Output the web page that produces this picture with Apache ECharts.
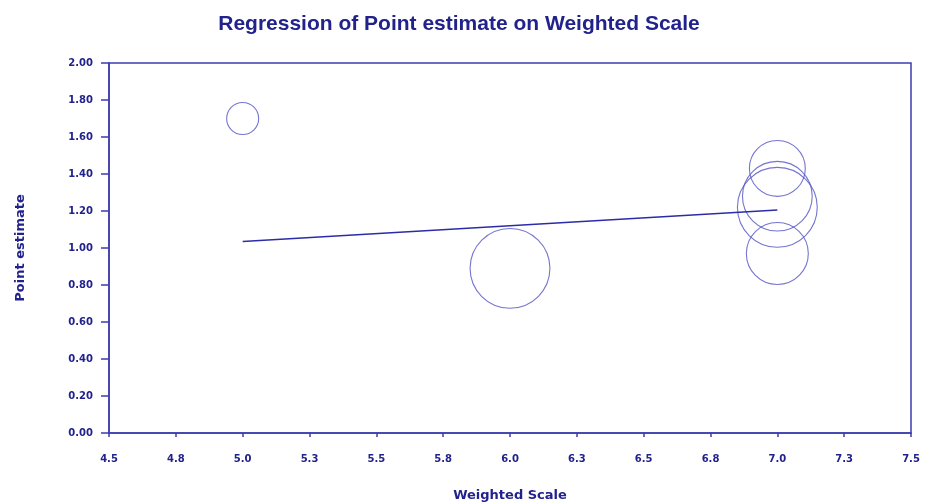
<!DOCTYPE html>
<html>
<head>
<meta charset="utf-8">
<script src="https://cdn.jsdelivr.net/npm/echarts@6/dist/echarts.min.js"></script>
<style>
  html, body { margin: 0; padding: 0; background: #ffffff; }
  #chart { width: 933px; height: 504px; }
</style>
</head>
<body>
<div id="chart"></div>
<script>
// Study-level estimates: weighted scale score vs. point estimate, bubble area = study weight (%)
const scaleScores   = [5.0, 6.0, 7.0, 7.0, 7.0, 7.0];
const pointEstimate = [1.70, 0.89, 1.43, 1.28, 1.22, 0.97];
const studyWeights  = [4.0, 24.9, 12.2, 19.0, 24.9, 15.0];

// Fitted meta-regression line (endpoints over the observed range)
const fitX = [5.0, 7.0];
const fitY = [1.035, 1.205];

// Axis tick labels
const xTickLabels = ['4.5', '4.8', '5.0', '5.3', '5.5', '5.8', '6.0', '6.3', '6.5', '6.8', '7.0', '7.3', '7.5'];
const yTickLabels = ['0.00', '0.20', '0.40', '0.60', '0.80', '1.00', '1.20', '1.40', '1.60', '1.80', '2.00'];

const navy = '#22228c';
const axisBlue = '#3c3cae';

const bubbles = scaleScores.map((x, i) => [x, pointEstimate[i], studyWeights[i]]);
const fitLine = fitX.map((x, i) => [x, fitY[i]]);

const chart = echarts.init(document.getElementById('chart'), null, { renderer: 'canvas' });
chart.setOption({
  animation: false,
  backgroundColor: '#ffffff',
  title: {
    text: 'Regression of Point estimate on Weighted Scale',
    left: 454,
    top: 9,
    textAlign: 'center',
    textStyle: { color: navy, fontFamily: 'Liberation Sans, Arial, sans-serif', fontWeight: 'bold', fontSize: 21 }
  },
  grid: {
    left: 109, right: 22, top: 63, bottom: 71,
    outerBoundsMode: 'none',
    containLabel: false,
    show: true, borderColor: axisBlue, borderWidth: 1.5, backgroundColor: 'transparent'
  },
  xAxis: {
    type: 'value', min: 4.5, max: 7.5, interval: 0.25,
    name: 'Weighted Scale', nameLocation: 'middle', nameGap: 56,
    nameTextStyle: { color: navy, fontFamily: 'DejaVu Sans, sans-serif', fontWeight: 'bold', fontSize: 13 },
    axisLine: { show: true, lineStyle: { color: axisBlue, width: 1.5 } },
    axisTick: { show: true, length: 4, lineStyle: { color: axisBlue, width: 1.5 } },
    splitLine: { show: false },
    axisLabel: {
      margin: 21, color: navy, fontFamily: 'DejaVu Sans, sans-serif', fontWeight: 'bold', fontSize: 10,
      formatter: v => xTickLabels[Math.round((v - 4.5) / 0.25)]
    }
  },
  yAxis: {
    type: 'value', min: 0, max: 2, interval: 0.2,
    name: 'Point estimate', nameLocation: 'middle', nameGap: 82, nameRotate: 90,
    nameTextStyle: { color: navy, fontFamily: 'DejaVu Sans, sans-serif', fontWeight: 'bold', fontSize: 13 },
    axisLine: { show: true, lineStyle: { color: axisBlue, width: 1.5 } },
    axisTick: { show: true, length: 8, lineStyle: { color: axisBlue, width: 1.5 } },
    splitLine: { show: false },
    axisLabel: {
      margin: 16, color: navy, fontFamily: 'DejaVu Sans, sans-serif', fontWeight: 'bold', fontSize: 10,
      formatter: v => yTickLabels[Math.round(v / 0.2)]
    }
  },
  series: [
    {
      type: 'scatter',
      data: bubbles,
      symbol: 'circle',
      symbolSize: d => 16 * Math.sqrt(d[2]),
      itemStyle: { color: 'rgba(0,0,0,0)', borderColor: '#5252c4', borderWidth: 1.1 },
      z: 2
    },
    {
      type: 'line',
      data: fitLine,
      showSymbol: false,
      lineStyle: { color: '#2c2ca6', width: 1.5 },
      z: 3
    }
  ]
});
</script>
</body>
</html>
